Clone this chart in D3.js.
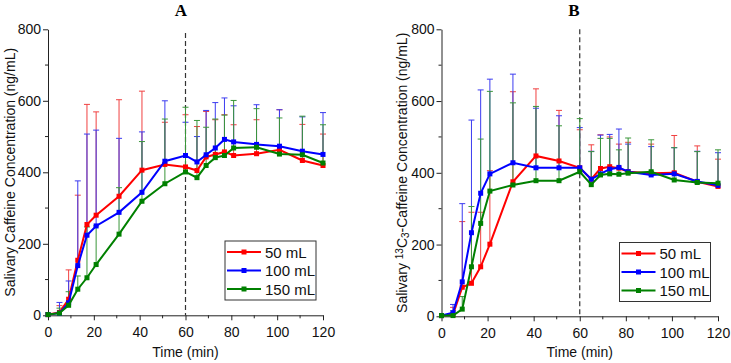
<html>
<head>
<meta charset='UTF-8'>
<script src="https://d3js.org/d3.v7.min.js"></script>
<style>
  body { margin: 0; background: #fff; }
  text { font-family: "Liberation Sans", Arial, sans-serif; }
</style>
</head>
<body>
<svg id="chart" width="731" height="363"></svg>
<script>
// sampling times (min)
const times = [0, 5, 9, 13, 17, 21, 31, 41, 51, 60, 65, 69, 73, 77, 81, 91, 101, 111, 120]
const seriesNames = ['50 mL', '100 mL', '150 mL']
const seriesColors = ['#ff0000', '#0000ff', '#008000']
const barColors = ['#f04040', '#3b3bf0', '#3a963a']
const xTicks = [0, 20, 40, 60, 80, 100, 120]
const yTicks = [0, 200, 400, 600, 800]

// panel A: salivary caffeine (mean, upper SD)
const redA   = [2, 8, 45, 154, 254, 280, 333, 406, 422, 415, 405, 443, 450, 457, 447, 452, 463, 433, 419]
const blueA  = [2, 6, 35, 139, 224, 250, 288, 344, 431, 447, 429, 449, 468, 492, 485, 478, 473, 459, 450]
const greenA = [2, 6, 28, 73, 105, 142, 227, 319, 368, 401, 385, 419, 441, 447, 468, 470, 451, 449, 426]
const redAsd   = [0, 19, 82, 182, 336, 289, 270, 221, 118, 146, 123, 127, 97, 104, 86, 95, 112, 101, 88]
const blueAsd  = [0, 30, 61, 237, 283, 268, 207, 169, 169, 93, 71, 124, 127, 116, 101, 111, 102, 96, 117]
const greenAsd = [0, 14, 38, 37, 142, 108, 130, 167, 181, 181, 160, 107, 108, 113, 133, 108, 101, 108, 107]

// panel B: salivary 13C3-caffeine
const redB   = [2, 5, 81, 92, 138, 201, 375, 447, 433, 414, 382, 412, 417, 413, 403, 399, 400, 375, 362]
const blueB  = [2, 10, 96, 233, 343, 397, 428, 414, 414, 414, 382, 397, 410, 415, 403, 394, 397, 376, 365]
const greenB = [2, 2, 20, 138, 259, 349, 366, 378, 378, 403, 367, 394, 397, 396, 399, 403, 380, 373, 371]
const redBsd   = [0, 20, 183, 198, 152, 205, 251, 187, 141, 106, 96, 94, 83, 67, 82, 81, 104, 100, 76]
const blueBsd  = [0, 23, 218, 314, 288, 264, 247, 166, 145, 112, 78, 108, 97, 107, 77, 79, 73, 84, 91]
const greenBsd = [0, 13, 35, 168, 235, 278, 229, 207, 153, 148, 92, 102, 99, 68, 98, 89, 90, 86, 93]

const svg = d3.select('svg#chart')

function drawPanel(opt) {
    let x = d3.scaleLinear().domain([0, 120]).range(opt.xr)
    let y = d3.scaleLinear().domain([0, 800]).range(opt.yr)
    let g = svg.append('g')

    // minor ticks
    let minorX = d3.range(10, 120, 20)
    let minorY = d3.range(100, 800, 200)
    g.selectAll('.mx').data(minorX).join('line')
        .attr('x1', d => x(d)).attr('x2', d => x(d))
        .attr('y1', opt.yr[0]).attr('y2', opt.yr[0] + 3)
        .attr('stroke', '#222')
    g.selectAll('.my').data(minorY).join('line')
        .attr('x1', opt.xr[0]).attr('x2', opt.xr[0] - 3)
        .attr('y1', d => y(d)).attr('y2', d => y(d))
        .attr('stroke', '#222')

    // axes
    let xAxis = g.append('g').attr('transform', `translate(0,${opt.yr[0]})`)
        .call(d3.axisBottom(x).tickValues(xTicks).tickSize(5).tickSizeOuter(0))
    let yAxis = g.append('g').attr('transform', `translate(${opt.xr[0]},0)`)
        .call(d3.axisLeft(y).tickValues(yTicks).tickSize(5).tickSizeOuter(0))
    ;[xAxis, yAxis].forEach(a => {
        a.select('.domain').attr('stroke', '#222')
        a.selectAll('.tick line').attr('stroke', '#222')
        a.selectAll('.tick text').attr('font-size', 14).attr('fill', '#111')
            .style('font-family', '"Liberation Sans", Arial, sans-serif')
    })
    xAxis.selectAll('.tick text').attr('dy', '0.95em')
    yAxis.selectAll('.tick text').attr('x', -7)

    // 60 min dashed line
    g.append('line')
        .attr('x1', x(60)).attr('x2', x(60))
        .attr('y1', y(opt.dashTop)).attr('y2', opt.yr[0])
        .attr('stroke', '#333').attr('stroke-width', 1.2)
        .attr('stroke-dasharray', '5,3')

    // error bars (upper only)
    opt.series.forEach((s, i) => {
        let eg = g.append('g').attr('stroke', barColors[i]).attr('stroke-width', 1)
        times.forEach((t, k) => {
            if (s.sd[k] <= 0) return
            let top = y(s.mean[k] + s.sd[k])
            eg.append('line').attr('x1', x(t)).attr('x2', x(t))
                .attr('y1', y(s.mean[k])).attr('y2', top)
            eg.append('line').attr('x1', x(t) - 3).attr('x2', x(t) + 3)
                .attr('y1', top).attr('y2', top)
        })
    })

    // lines and square markers
    opt.series.forEach((s, i) => {
        let c = seriesColors[i]
        let pts = times.map((t, k) => [t, s.mean[k]])
        g.append('path')
            .attr('d', d3.line().x(d => x(d[0])).y(d => y(d[1]))(pts))
            .attr('fill', 'none').attr('stroke', c).attr('stroke-width', 2)
        g.selectAll(null).data(pts).join('rect')
            .attr('x', d => x(d[0]) - 2.5).attr('y', d => y(d[1]) - 2.5)
            .attr('width', 5).attr('height', 5).attr('fill', c)
    })

    // title letter
    svg.append('text').attr('x', opt.titleX).attr('y', 16)
        .attr('text-anchor', 'middle').attr('font-size', 17).attr('font-weight', 'bold')
        .style('font-family', '"Liberation Serif", "Times New Roman", serif')
        .text(opt.title)

    // x label
    svg.append('text')
        .attr('x', (opt.xr[0] + opt.xr[1]) / 2).attr('y', 357)
        .attr('text-anchor', 'middle').attr('font-size', 14).attr('fill', '#111')
        .text('Time (min)')

    // y label
    let yl = svg.append('text')
        .attr('transform', `translate(${opt.ylabX},${(opt.yr[0] + opt.yr[1]) / 2}) rotate(-90)`)
        .attr('text-anchor', 'middle').attr('font-size', 14).attr('fill', '#111')
    opt.ylab(yl)

    // legend
    let lg = svg.append('g').attr('transform', `translate(${opt.legX},${opt.legY})`)
    lg.append('rect').attr('width', 91).attr('height', 59)
        .attr('fill', '#fff').attr('stroke', '#333').attr('stroke-width', 1)
    seriesNames.forEach((n, i) => {
        let ry = 11 + i * 18.5
        lg.append('line').attr('x1', 2).attr('x2', 36).attr('y1', ry).attr('y2', ry)
            .attr('stroke', seriesColors[i]).attr('stroke-width', 2)
        lg.append('rect').attr('x', 16.5).attr('y', ry - 2.5).attr('width', 5).attr('height', 5)
            .attr('fill', seriesColors[i])
        lg.append('text').attr('x', 40).attr('y', ry + 5.5)
            .attr('font-size', 15).attr('fill', '#111').text(n)
    })
}

drawPanel({
    xr: [48, 323], yr: [315.3, 29.3], dashTop: 790,
    title: 'A', titleX: 181, ylabX: 15, legX: 225, legY: 241,
    series: [
        { mean: redA, sd: redAsd },
        { mean: blueA, sd: blueAsd },
        { mean: greenA, sd: greenAsd }
    ],
    ylab: t => t.text('Salivary Caffeine Concentration (ng/mL)')
})

drawPanel({
    xr: [441.5, 718], yr: [316.3, 29.3], dashTop: 800,
    title: 'B', titleX: 574, ylabX: 407, legX: 619.5, legY: 242.5,
    series: [
        { mean: redB, sd: redBsd },
        { mean: blueB, sd: blueBsd },
        { mean: greenB, sd: greenBsd }
    ],
    ylab: t => {
        t.append('tspan').text('Salivary ')
        t.append('tspan').attr('font-size', 10).attr('baseline-shift', '40%').text('13')
        t.append('tspan').text('C')
        t.append('tspan').attr('font-size', 10).attr('baseline-shift', '-20%').text('3')
        t.append('tspan').text('-Caffeine Concentration (ng/mL)')
    }
})
</script>
</body>
</html>
